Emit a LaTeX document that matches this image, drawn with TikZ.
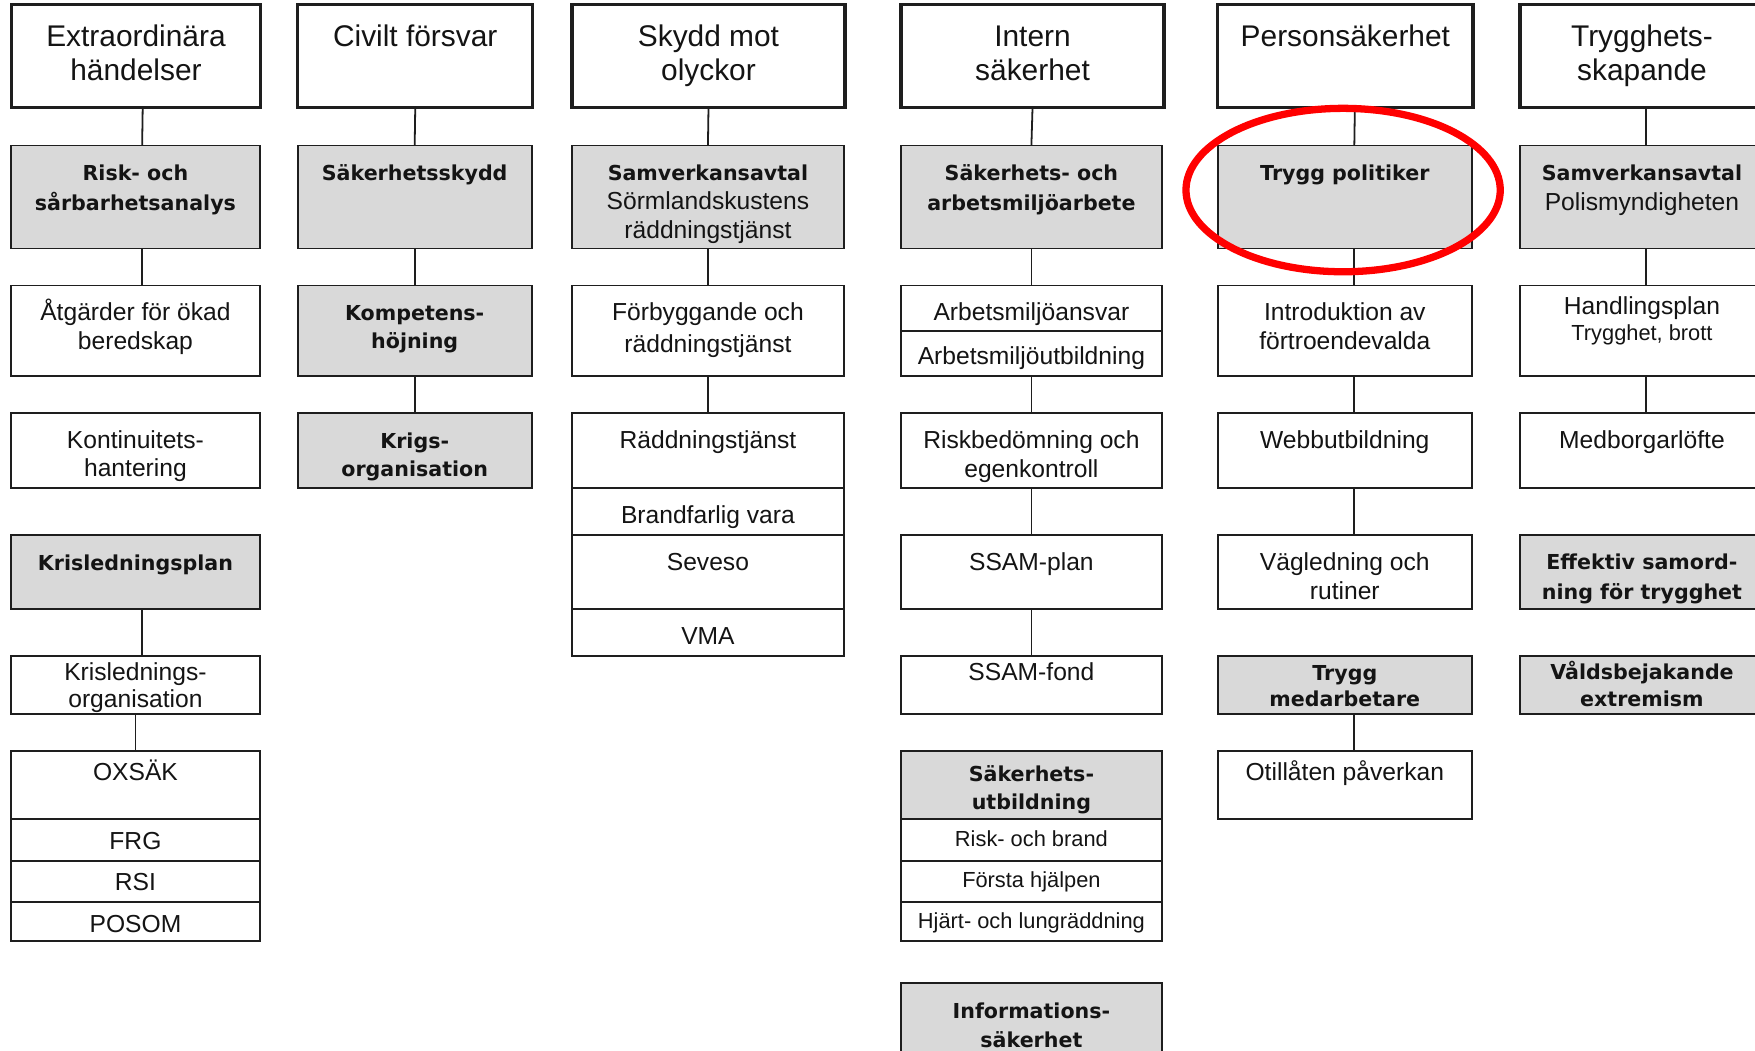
\documentclass[tikz,border=0pt]{standalone}
\usepackage{fontspec}
\setmainfont{Liberation Sans}
\newfontfamily\dvfont{DejaVu Sans}
\newcommand\BoldT{\dvfont\bfseries}
\newcommand\bsz{\BoldT\fontsize{18.4}{26}\selectfont}
\usetikzlibrary{shapes.geometric}
\definecolor{gfill}{HTML}{D9D9D9}
\definecolor{lc}{HTML}{1E1E1E}
\definecolor{tc}{HTML}{141414}
\definecolor{hlred}{HTML}{FF0000}
\tikzset{
  bxs/.style={draw=lc, line width=1.6pt, fill=white, rectangle, inner sep=0pt, outer sep=0pt},
  gbxs/.style={bxs, fill=gfill},
  tbxs/.style={bxs, line width=3pt},
  conn/.style={draw=lc, line width=1.6pt},
  txt/.style={anchor=base, inner sep=0pt, outer sep=0pt, text=tc},
  ft/.style={font=\fontsize{26.7}{30}\selectfont},
  fr/.style={font=\fontsize{22}{#1}\selectfont}, fr/.default=26,
  fs/.style={font=\fontsize{19.5}{23}\selectfont},
  fb/.style={font=\BoldT\fontsize{18.4}{#1}\selectfont}, fb/.default=26,
  hlring/.style={draw=hlred, line width=6.5pt, ellipse, inner sep=0pt, fill=none}
}
\newcommand\bx[6][bxs]{\node[#1,anchor=north west,minimum width={(#5-#3)*1pt},minimum height={(#6-#4)*1pt}] (#2) at (#3,#4) {};}
\newcommand\tx[5][]{\node[txt,fr,#1] (#2) at (#3,#4) {\begin{tabular}[t]{@{}c@{}}#5\end{tabular}};}
\begin{document}
\begin{tikzpicture}[x=1pt,y=-1pt]
\useasboundingbox (0,0) rectangle (1568,939);
\fill[white] (0,0) rectangle (1568,939);
\clip (0,0) rectangle (1568,939);
% column 1
\bx[tbxs]{A0}{10}{4}{233}{96}
\bx[gbxs]{A1}{10}{130}{232}{222}
\bx{A2}{10}{255}{232}{336}
\bx{A3}{10}{369}{232}{436}
\bx[gbxs]{A4}{10}{478}{232}{544}
\bx{A5}{10}{586}{232}{638}
\bx{A6}{10}{671}{232}{732}
\bx{A7}{10}{732}{232}{769}
\bx{A8}{10}{769}{232}{806}
\bx{A9}{10}{806}{232}{841}
% column 2
\bx[tbxs]{B0}{266}{4}{476}{96}
\bx[gbxs]{B1}{266}{130}{475}{222}
\bx[gbxs]{B2}{266}{255}{475}{336}
\bx[gbxs]{B3}{266}{369}{475}{436}
% column 3
\bx[tbxs]{C0}{511}{4}{755}{96}
\bx[gbxs]{C1}{511}{130}{754}{222}
\bx{C2}{511}{255}{754}{336}
\bx{C3}{511}{369}{754}{436}
\bx{C4}{511}{436}{754}{478}
\bx{C5}{511}{478}{754}{544}
\bx{C6}{511}{544}{754}{586}
% column 4
\bx[tbxs]{D0}{805}{4}{1040}{96}
\bx[gbxs]{D1}{805}{130}{1038}{222}
\bx{D2}{805}{255}{1038}{296}
\bx{D3}{805}{296}{1038}{336}
\bx{D4}{805}{369}{1038}{436}
\bx{D5}{805}{478}{1038}{544}
\bx{D6}{805}{586}{1038}{638}
\bx[gbxs]{D7}{805}{671}{1038}{732}
\bx{D8}{805}{732}{1038}{769}
\bx{D9}{805}{769}{1038}{806}
\bx{D10}{805}{806}{1038}{841}
\bx[gbxs]{D11}{805}{878}{1038}{960}
% column 5
\bx[tbxs]{E0}{1088}{4}{1316}{96}
\bx[gbxs]{E1}{1088}{130}{1315}{222}
\bx{E2}{1088}{255}{1315}{336}
\bx{E3}{1088}{369}{1315}{436}
\bx{E4}{1088}{478}{1315}{544}
\bx[gbxs]{E5}{1088}{586}{1315}{638}
\bx{E6}{1088}{671}{1315}{732}
% column 6
\bx[tbxs]{F0}{1358}{4}{1578}{96}
\bx[gbxs]{F1}{1358}{130}{1576}{222}
\bx{F2}{1358}{255}{1576}{336}
\bx{F3}{1358}{369}{1576}{436}
\bx[gbxs]{F4}{1358}{478}{1576}{544}
\bx[gbxs]{F5}{1358}{586}{1576}{638}
% connectors
\draw[conn] ([xshift=6pt]A0.south) -- ([xshift=6pt]A1.north);
\draw[conn] ([xshift=6pt]A1.south) -- ([xshift=6pt]A2.north);
\draw[conn] ([xshift=6pt]A4.south) -- ([xshift=6pt]A5.north);
\draw[conn] (A5.south) -- (A6.north);
\draw[conn] (B0.south) -- (B1.north);
\draw[conn] (B1.south) -- (B2.north);
\draw[conn] (B2.south) -- (B3.north);
\draw[conn] (C0.south) -- (C1.north);
\draw[conn] (C1.south) -- (C2.north);
\draw[conn] (C2.south) -- (C3.north);
\draw[conn] (D0.south) -- (D1.north);
\draw[conn] (D1.south) -- (D2.north);
\draw[conn] (D3.south) -- (D4.north);
\draw[conn] (D4.south) -- (D5.north);
\draw[conn] (D5.south) -- (D6.north);
\draw[conn] ([xshift=8.5pt]E0.south) -- ([xshift=8.5pt]E1.north);
\draw[conn] ([xshift=8.5pt]E1.south) -- ([xshift=8.5pt]E2.north);
\draw[conn] ([xshift=8.5pt]E2.south) -- ([xshift=8.5pt]E3.north);
\draw[conn] ([xshift=8.5pt]E3.south) -- ([xshift=8.5pt]E4.north);
\draw[conn] ([xshift=8.5pt]E5.south) -- ([xshift=8.5pt]E6.north);
\draw[conn] ([xshift=2.5pt]F0.south) -- ([xshift=3.5pt]F1.north);
\draw[conn] ([xshift=3.5pt]F1.south) -- ([xshift=3.5pt]F2.north);
\draw[conn] ([xshift=3.5pt]F2.south) -- ([xshift=3.5pt]F3.north);
% texts: titles
\tx[ft]{A0t}{121.5}{41.5}{Extraordinära\\händelser}
\tx[ft]{B0t}{371}{41.5}{Civilt försvar}
\tx[ft]{C0t}{633}{41.5}{Skydd mot\\olyckor}
\tx[ft]{D0t}{922.5}{41.5}{Intern\\säkerhet}
\tx[ft]{E0t}{1202}{41.5}{Personsäkerhet}
\tx[ft]{F0t}{1467}{41.5}{Trygghets-\\skapande}
% row 2
\tx[fb]{A1t}{121}{161.7}{Risk- och\\sårbarhetsanalys}
\tx[fb]{B1t}{370.5}{161.7}{Säkerhetsskydd}
\tx[fr=25.7]{C1t}{632.5}{161.7}{{\bsz Samverkansavtal}\\Sörmlandskustens\\räddningstjänst}
\tx[fb]{D1t}{921.5}{161.7}{Säkerhets- och\\arbetsmiljöarbete}
\tx[fb]{E1t}{1201.5}{161.7}{Trygg politiker}
\tx[fr=26]{F1t}{1467}{161.7}{{\bsz Samverkansavtal}\\Polismyndigheten}
% row 3
\tx{A2t}{121}{286}{Åtgärder för ökad\\beredskap}
\tx[fb=25]{B2t}{370.5}{286}{Kompetens-\\höjning}
\tx[fr=28]{C2t}{632.5}{286.5}{Förbyggande och\\räddningstjänst}
\tx{D2t}{921.5}{286}{Arbetsmiljöansvar}
\tx{D3t}{921.5}{326}{Arbetsmiljöutbildning}
\tx{E2t}{1201.5}{286}{Introduktion av\\förtroendevalda}
\tx[fr=23]{F2t}{1467}{281.4}{Handlingsplan\\{\fontsize{19.5}{23}\selectfont Trygghet, brott}}
% row 4
\tx[fr=25]{A3t}{121}{401}{Kontinuitets-\\hantering}
\tx[fb=25]{B3t}{370.5}{401}{Krigs-\\organisation}
\tx{C3t}{632.5}{401}{Räddningstjänst}
\tx{C4t}{632.5}{468}{Brandfarlig vara}
\tx[fr=25.7]{D4t}{921.5}{401}{Riskbedömning och\\egenkontroll}
\tx{E3t}{1201.5}{400.5}{Webbutbildning}
\tx{F3t}{1467}{400.5}{Medborgarlöfte}
% row 5
\tx[fb]{A4t}{121}{509.5}{Krisledningsplan}
\tx{C5t}{632.5}{509.5}{Seveso}
\tx{C6t}{632.5}{576}{VMA}
\tx{D5t}{921.5}{509.5}{SSAM-plan}
\tx{E4t}{1201.5}{509.5}{Vägledning och\\rutiner}
\tx[fb]{F4t}{1467}{509.2}{Effektiv samord-\\ning för trygghet}
% row 6
\tx[fr=24.5]{A5t}{121}{608}{Krislednings-\\organisation}
\tx{D6t}{921.5}{608}{SSAM-fond}
\tx[fb=23.5]{E5t}{1201.5}{608}{Trygg\\medarbetare}
\tx[fb=24.4]{F5t}{1467}{607}{Våldsbejakande\\extremism}
% row 7 and below
\tx{A6t}{121}{697}{OXSÄK}
\tx{A7t}{121}{759}{FRG}
\tx{A8t}{121}{796}{RSI}
\tx{A9t}{121}{833}{POSOM}
\tx[fb=25]{D7t}{921.5}{697.8}{Säkerhets-\\utbildning}
\tx[fs]{D8t}{921.5}{756}{Risk- och brand}
\tx[fs]{D9t}{921.5}{793}{Första hjälpen}
\tx[fs]{D10t}{921.5}{830}{Hjärt- och lungräddning}
\tx[fb]{D11t}{921.5}{910}{Informations-\\säkerhet}
\tx{E6t}{1201.5}{697}{Otillåten påverkan}
% highlight ring
\node[hlring, minimum width=280.8pt, minimum height=146pt] (ring) at (1200,169.8) {};
\end{tikzpicture}
\end{document}
